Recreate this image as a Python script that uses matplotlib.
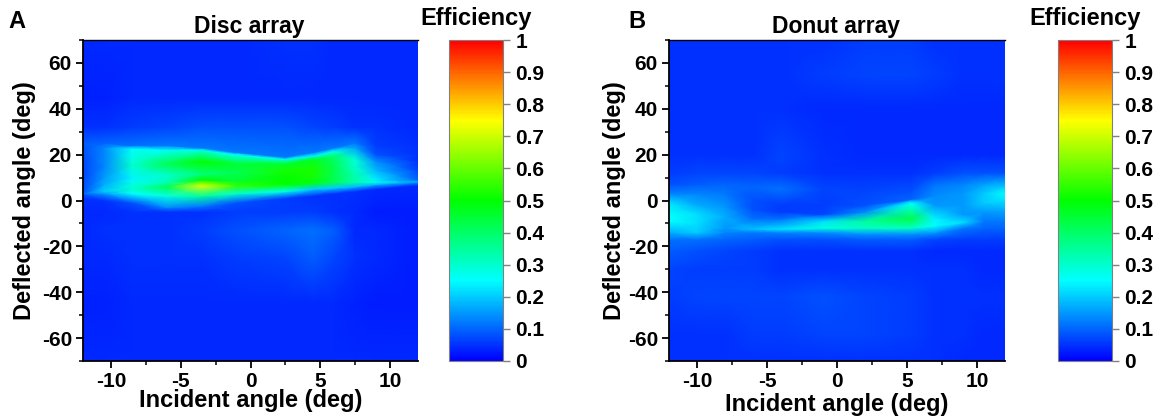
# contour maps of deflection efficiency for disc and donut arrays
import numpy as np
import matplotlib
matplotlib.use("Agg")
import matplotlib.pyplot as plt
from matplotlib.colors import LinearSegmentedColormap, Normalize
from matplotlib.cm import ScalarMappable

plt.rcParams['font.family'] = ['Liberation Sans', 'DejaVu Sans']
plt.rcParams['font.weight'] = 'bold'
plt.rcParams['axes.unicode_minus'] = False

# disc array (each row follows one feature across the map)
incident_a = [-12, -10.5, -8.5, -6, -3.5, -1, 2.5, 4.5, 6, 7.5, 9, 12]
deflected_a = [
    [-70]*12,
    [-45]*12,
    [-25]*12,
    [-13]*12,
    [-5]*12,
    [1, 0, -1, -3, -2.5, -1, 1, 2, 3, 4, 5, 6.5],
    [2.5, 3, 3, 2, 2, 3, 4, 5, 5.5, 6, 7, 8],
    [3, 4, 5, 6, 6.5, 6.5, 7, 7.5, 8, 8, 8, 8.5],
    [4, 7, 7.5, 8, 9, 8.5, 10, 11, 12, 11, 8.5, 9],
    [9, 10, 10, 11, 11.5, 12, 13, 14, 15, 15, 13, 13],
    [14, 15, 15.5, 16, 17, 16, 16, 18, 19, 18, 17, 17],
    [22, 23, 22.5, 22, 22, 20, 18, 19.5, 21.5, 23, 20, 20],
    [25, 25, 24, 24, 23, 21, 19, 21, 23, 25, 24, 24],
    [32]*12,
    [45]*12,
    [70]*12,
]
efficiency_a = [
    [.04, .04, .04, .04, .04, .04, .04, .04, .04, .04, .04, .04],
    [.035, .035, .04, .04, .04, .04, .04, .04, .04, .035, .03, .03],
    [.04, .04, .05, .05, .05, .06, .07, .09, .07, .05, .04, .03],
    [.04, .05, .05, .05, .06, .08, .10, .11, .09, .04, .04, .03],
    [.04, .04, .05, .05, .05, .06, .06, .06, .05, .04, .03, .03],
    [.05, .05, .08, .14, .12, .08, .06, .05, .05, .05, .04, .04],
    [.08, .15, .25, .28, .35, .30, .27, .20, .20, .18, .18, .15],
    [.10, .20, .30, .42, .72, .55, .50, .48, .42, .33, .28, .15],
    [.08, .17, .27, .32, .50, .45, .50, .52, .42, .33, .24, .10],
    [.07, .15, .24, .30, .38, .42, .52, .52, .42, .30, .18, .07],
    [.07, .13, .30, .42, .50, .45, .45, .46, .40, .29, .14, .05],
    [.08, .13, .25, .26, .28, .26, .28, .24, .27, .16, .08, .05],
    [.09, .10, .11, .12, .12, .12, .12, .12, .12, .12, .06, .05],
    [.05, .05, .06, .07, .08, .08, .08, .07, .06, .05, .05, .04],
    [.035, .035, .04, .04, .04, .04, .04, .04, .04, .04, .04, .04],
    [.04, .04, .04, .04, .04, .04, .05, .05, .04, .04, .04, .04],
]

# donut array
incident_b = [-12, -10, -8, -6, -4, -1, 2, 5.3, 7, 9, 10.5, 12]
deflected_b = [
    [-70]*12,
    [-58]*12,
    [-42]*12,
    [-30]*12,
    [-22]*12,
    [-17]*12,
    [-14, -14, -14, -14, -14, -14, -14.5, -14.5, -14, -12, -12, -12],
    [-9, -10, -12, -12.5, -12.5, -12, -12, -12, -11, -9.5, -9, -9],
    [-6, -6, -7, -8, -8, -9, -9, -8, -8, -6, -5, -4],
    [-1, -2, -3, -4, -5, -6, -5, -1, -2, -2, -1, 0],
    [3, 3, 3, 0, -2, -2, -2, 0.5, 2, 3, 3, 3],
    [7, 7, 7, 6, 5, 5, 4, 4, 6.5, 7, 7, 6],
    [12]*12,
    [20]*12,
    [40]*12,
    [55]*12,
    [70]*12,
]
efficiency_b = [
    [.05, .05, .05, .05, .05, .05, .05, .05, .05, .04, .04, .04],
    [.05, .05, .05, .06, .06, .07, .07, .06, .05, .05, .04, .04],
    [.06, .07, .07, .07, .07, .08, .07, .06, .05, .05, .05, .05],
    [.07, .06, .06, .06, .05, .05, .05, .05, .05, .05, .04, .04],
    [.09, .08, .07, .06, .05, .05, .05, .05, .04, .04, .04, .04],
    [.11, .11, .10, .09, .08, .08, .09, .09, .07, .06, .06, .06],
    [.17, .20, .13, .12, .13, .14, .15, .15, .15, .12, .10, .10],
    [.25, .22, .15, .19, .22, .28, .31, .31, .25, .22, .12, .12],
    [.26, .22, .17, .11, .11, .22, .35, .43, .24, .15, .15, .17],
    [.22, .17, .15, .08, .06, .07, .14, .25, .15, .15, .20, .22],
    [.13, .13, .12, .08, .06, .06, .08, .10, .14, .15, .20, .25],
    [.08, .09, .10, .10, .11, .07, .07, .08, .12, .13, .16, .20],
    [.06, .07, .07, .07, .06, .05, .05, .05, .06, .08, .08, .08],
    [.05, .05, .05, .05, .07, .05, .04, .04, .04, .04, .04, .04],
    [.05, .05, .05, .05, .05, .04, .04, .04, .04, .04, .04, .04],
    [.05, .05, .05, .05, .05, .06, .07, .07, .06, .05, .05, .05],
    [.05, .05, .05, .05, .05, .05, .06, .06, .05, .05, .05, .05],
]

x_ticks = [-10, -5, 0, 5, 10]
y_ticks = [-60, -40, -20, 0, 20, 40, 60]
cbar_ticks = [0, .1, .2, .3, .4, .5, .6, .7, .8, .9, 1]
cbar_labels = ['0', '0.1', '0.2', '0.3', '0.4', '0.5', '0.6', '0.7', '0.8', '0.9', '1']

W, H = 1161, 418
cmap = LinearSegmentedColormap.from_list(
    'eff', ['#0000ff', '#00ffff', '#00ff00', '#ffff00', '#ff0000'], N=256)
norm = Normalize(0, 1)


def px_axes(fig, left, top, right, bottom):
    return fig.add_axes([left/W, 1-bottom/H, (right-left)/W, (bottom-top)/H])


def panel(fig, box, cbox, incident, deflected, eff, letter, letter_x, title, title_x,
          xlabel_y, ylabel_x, eff_x):
    ax = px_axes(fig, *box)
    X = np.tile(incident, (len(deflected), 1))
    ax.pcolormesh(X, np.array(deflected), np.array(eff), shading='gouraud',
                  cmap=cmap, norm=norm, rasterized=True)
    ax.set_xlim(-12, 12)
    ax.set_ylim(-70, 70)
    ax.set_xticks(x_ticks)
    ax.set_xticks(np.arange(-10, 11, 2.5), minor=True)
    ax.set_yticks(y_ticks)
    ax.set_yticks(np.arange(-70, 71, 10), minor=True)
    ax.tick_params(axis='both', which='major', labelsize=15, length=5, width=1.3, pad=3)
    ax.tick_params(axis='both', which='minor', length=3, width=1.1)
    for s in ['right']:
        ax.spines[s].set_visible(False)
    ax.spines['top'].set_linewidth(1.0)
    for s in ['left', 'bottom']:
        ax.spines[s].set_linewidth(1.3)

    fig.text(title_x/W, 1-26/H, title, fontsize=16.5, ha='center', va='center')
    fig.text(letter_x/W, 1-21/H, letter, fontsize=17, ha='center', va='center')
    fig.text((box[0]+box[2])/2/W, 1-xlabel_y/H, 'Incident angle (deg)', fontsize=17,
             ha='center', va='center')
    fig.text(ylabel_x/W, 1-201/H, 'Deflected angle (deg)', fontsize=17, rotation=90,
             ha='center', va='center')

    cax = px_axes(fig, *cbox)
    cb = fig.colorbar(ScalarMappable(norm=norm, cmap=cmap), cax=cax)
    cb.set_ticks(cbar_ticks)
    cb.set_ticklabels(cbar_labels)
    cb.outline.set_edgecolor('#808080')
    cb.outline.set_linewidth(0.8)
    cax.tick_params(labelsize=15, length=5, width=1, color='#808080', pad=4)
    fig.text(eff_x/W, 1-19/H, 'Efficiency', fontsize=17, ha='center', va='center')


fig = plt.figure(figsize=(W/100, H/100), dpi=100)
panel(fig, (83, 40, 418, 361), (449, 40, 503, 361), incident_a, deflected_a, efficiency_a,
      'A', 17, 'Disc array', 249, 401, 25, 476)
panel(fig, (669, 40, 1005, 361), (1058, 40, 1112, 361), incident_b, deflected_b, efficiency_b,
      'B', 637, 'Donut array', 836, 405, 614, 1085)
fig.savefig('out.png', dpi=100)
